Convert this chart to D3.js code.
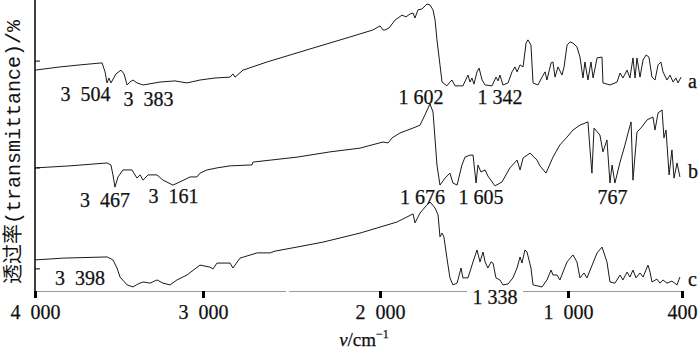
<!DOCTYPE html>
<meta charset="utf-8">
<style>
    body { margin: 0; background: #fff; }
    svg { display: block; }
    .num { font-family: "Liberation Serif", "Times New Roman", serif; font-size: 20px; fill: #111; stroke: #111; stroke-width: 0.25px; }
    .trace { fill: none; stroke: #1a1a1a; stroke-width: 1; stroke-linejoin: round; }
</style>
<svg width="700" height="351"></svg>
<script src="https://d3js.org/d3.v7.min.js"></script>
<script>
    // wavenumber (cm-1), transmittance (arbitrary, offset traces)
    const spectrumA = [[4000,75.9],[3851,77.0],[3732,77.7],[3601,78.4],[3583,75.3],[3571,71.5],[3560,73.2],[3548,71.5],[3518,74.6],[3488,75.9],[3470,74.6],[3452,70.8],[3435,71.8],[3417,72.5],[3393,71.5],[3357,70.8],[3256,71.8],[3167,72.2],[3095,71.5],[3018,72.5],[2932,73.2],[2847,73.5],[2831,74.6],[2819,73.5],[2774,75.9],[2638,78.7],[2508,81.1],[2356,83.9],[2169,87.3],[2040,89.7],[2000,91.1],[1984,89.7],[1973,89.7],[1952,90.4],[1920,93.1],[1883,94.8],[1862,94.2],[1840,95.2],[1824,95.5],[1814,93.8],[1798,96.6],[1777,96.9],[1750,98.6],[1734,98.3],[1718,96.6],[1707,93.1],[1697,86.3],[1681,77.7],[1670,71.8],[1644,70.5],[1628,71.8],[1617,72.5],[1601,70.5],[1559,70.5],[1532,74.2],[1521,71.8],[1511,73.2],[1500,71.1],[1484,75.3],[1473,76.6],[1457,72.5],[1441,70.8],[1404,70.5],[1383,73.5],[1372,72.2],[1362,74.2],[1346,70.8],[1319,71.5],[1298,75.3],[1282,77.0],[1271,75.3],[1255,77.7],[1239,77.0],[1223,85.2],[1213,86.3],[1197,84.5],[1186,71.5],[1160,70.8],[1138,73.5],[1122,75.3],[1112,72.5],[1090,78.4],[1080,78.7],[1069,73.5],[1053,77.0],[1032,74.2],[1021,77.0],[1005,84.5],[989,85.6],[974,85.2],[953,83.9],[937,80.4],[921,73.2],[911,78.7],[895,72.5],[879,78.7],[868,73.2],[847,80.1],[821,80.4],[816,71.5],[779,70.8],[742,71.8],[726,74.9],[711,73.2],[689,75.9],[674,73.2],[658,80.1],[647,73.2],[637,80.1],[621,73.5],[605,79.4],[589,81.1],[574,80.4],[558,73.5],[542,72.5],[526,77.7],[511,78.7],[500,75.3],[479,72.5],[463,74.2],[447,71.8],[432,73.2],[421,71.5],[405,73.5]];

    const spectrumB = [[4000,42.3],[3792,43.0],[3571,44.0],[3548,43.3],[3536,39.9],[3524,35.7],[3506,39.2],[3476,41.6],[3423,41.6],[3393,38.8],[3375,39.9],[3357,38.1],[3327,39.9],[3274,39.9],[3238,38.1],[3179,36.4],[3137,37.5],[3077,39.2],[3036,39.2],[3018,40.5],[2977,41.6],[2921,42.3],[2847,43.0],[2734,43.3],[2723,43.3],[2718,44.3],[2469,46.0],[2283,47.8],[2113,49.1],[1984,51.2],[1957,50.9],[1936,52.6],[1894,54.3],[1824,56.0],[1787,57.0],[1761,60.5],[1734,64.3],[1718,61.5],[1697,43.3],[1681,36.4],[1654,38.8],[1628,40.5],[1612,37.1],[1590,36.4],[1564,43.3],[1548,46.0],[1521,46.7],[1505,46.7],[1489,37.1],[1479,43.3],[1463,40.9],[1441,41.6],[1426,39.5],[1388,36.1],[1351,37.5],[1309,42.3],[1271,45.0],[1255,41.6],[1239,45.7],[1202,47.4],[1165,45.0],[1149,43.0],[1117,40.5],[1080,46.0],[1043,50.2],[1005,52.9],[974,55.3],[937,57.0],[895,58.1],[884,48.5],[874,40.5],[863,56.0],[832,53.6],[816,47.8],[795,51.9],[779,37.1],[768,43.3],[753,37.1],[726,44.3],[700,50.2],[684,54.3],[668,58.1],[658,38.1],[637,54.6],[611,56.4],[584,58.8],[553,59.8],[542,55.3],[526,61.2],[505,62.2],[495,52.6],[484,55.3],[468,39.9],[453,48.5],[442,38.8],[426,44.0],[411,39.2]];

    const spectrumC = [[4000,10.7],[3911,11.0],[3833,11.3],[3571,11.7],[3536,10.7],[3512,7.9],[3494,4.8],[3452,2.1],[3417,1.4],[3387,2.4],[3357,3.1],[3315,2.7],[3274,3.8],[3238,2.7],[3196,2.1],[3155,3.8],[3095,5.5],[3018,8.9],[2960,8.2],[2943,7.6],[2921,9.6],[2847,9.6],[2831,7.9],[2791,11.3],[2694,13.1],[2621,13.1],[2593,13.7],[2469,15.1],[2322,16.8],[2113,19.9],[1910,23.7],[1824,26.5],[1814,23.4],[1787,26.8],[1750,29.6],[1734,30.6],[1707,28.5],[1691,26.1],[1681,18.6],[1670,19.9],[1660,18.6],[1644,11.3],[1628,4.5],[1612,2.1],[1590,2.7],[1569,7.9],[1559,4.5],[1532,4.5],[1505,10.0],[1484,14.1],[1468,10.0],[1452,13.4],[1441,10.0],[1426,7.9],[1409,10.0],[1399,9.6],[1383,4.5],[1362,3.8],[1346,2.1],[1319,2.4],[1293,4.5],[1271,7.9],[1255,11.7],[1245,9.6],[1229,14.1],[1218,13.4],[1197,7.9],[1186,2.1],[1138,1.4],[1112,3.8],[1090,7.2],[1080,5.5],[1059,5.5],[1043,3.8],[1005,10.0],[974,12.4],[953,10.0],[937,4.5],[916,6.2],[900,4.5],[879,7.9],[847,13.1],[821,15.1],[795,10.0],[779,3.1],[753,2.7],[726,5.5],[711,3.8],[689,6.5],[674,4.8],[658,7.2],[642,4.5],[621,6.2],[605,4.8],[579,8.9],[568,6.5],[558,3.1],[532,4.1],[516,2.7],[500,3.8],[479,2.7],[453,3.4],[426,2.1],[411,4.8]];

    const xTickValues = [4000, 3000, 2000, 1000, 400];
    const xTickLabels = ["4\u2002000", "3\u2002000", "2\u2002000", "1\u2002000", "400"];
    const yTickValues = [79.0, 42.3, 7.6];

    // peak labels: text, wavenumber of label centre, transmittance of baseline
    const peakText = ["3\u2002504", "3\u2002383", "1 602", "1 342", "3\u2002467", "3\u2002161", "1 676", "1 605", "767", "3\u2002398", "1 338"];
    const peakWn   = [3699, 3324, 1782, 1362, 3583, 3176, 1774, 1463, 766, 3732, 1388];
    const peakT    = [65.3, 63.6, 64.3, 64.3, 28.9, 30.2, 29.9, 29.9, 29.9, 2.1, -4.5];

    const traceNames = ["a", "b", "c"];
    const traceNameT = [69.8, 38.8, 1.7];

    const svg = d3.select("svg");

    // the original axis is not quite linear, so use piecewise segments
    const x = d3.scaleLinear()
        .domain([4000, 3000, 2000, 1000, 400])
        .range([35, 203, 380, 568, 682]);
    const y = d3.scaleLinear().domain([0, 100]).range([291, 0]);

    // x axis
    const xAxis = d3.axisBottom(x)
        .tickValues(xTickValues)
        .tickFormat((d, i) => xTickLabels[i])
        .tickSize(7)
        .tickSizeOuter(0)
        .tickPadding(7);
    const gx = svg.append("g").attr("transform", "translate(0,291)").call(xAxis);
    gx.select(".domain").attr("stroke", "#9a9a9a").attr("stroke-width", 1);
    gx.selectAll(".tick line").attr("stroke", "#000").attr("stroke-width", 3);
    gx.selectAll(".tick text").attr("class", "num").attr("fill", "#111");
    // small break in the axis line, as in the scan
    svg.append("rect").attr("x", x(2530)).attr("y", 289).attr("width", 3).attr("height", 4).attr("fill", "#fff");

    // y axis, no labels, small inner ticks
    svg.append("line")
        .attr("x1", 35).attr("x2", 35).attr("y1", 0).attr("y2", 291)
        .attr("stroke", "#000").attr("stroke-width", 1.5);
    svg.selectAll(".ytick").data(yTickValues).join("line")
        .attr("class", "ytick")
        .attr("x1", 35).attr("x2", 40)
        .attr("y1", d => y(d)).attr("y2", d => y(d))
        .attr("stroke", "#000").attr("stroke-width", 1);

    const line = d3.line().x(d => x(d[0])).y(d => y(d[1]));
    svg.selectAll(".trace").data([spectrumA, spectrumB, spectrumC]).join("path")
        .attr("class", "trace")
        .attr("d", line);

    // peak labels
    const lab = svg.selectAll(".peak").data(peakText).join("g").attr("class", "peak");
    lab.filter(d => d === "1 338").append("rect")
        .attr("x", x(1388) - 28).attr("y", y(-4.5) - 15)
        .attr("width", 56).attr("height", 17)
        .attr("fill", "#fff");
    lab.append("text")
        .attr("class", "num")
        .attr("x", (d, i) => x(peakWn[i]))
        .attr("y", (d, i) => y(peakT[i]))
        .attr("text-anchor", "middle")
        .style("white-space", "pre")
        .text(d => d);

    svg.selectAll(".name").data(traceNames).join("text")
        .attr("class", "num name")
        .attr("x", x(400) + 6)
        .attr("y", (d, i) => y(traceNameT[i]))
        .text(d => d);

    // axis titles
    svg.append("text")
        .attr("transform", "translate(14,152) rotate(-90)")
        .attr("text-anchor", "middle")
        .attr("dominant-baseline", "central")
        .style("font-family", "'Liberation Mono', 'Noto Sans CJK SC', monospace")
        .style("font-size", "20px")
        .attr("fill", "#111")
        .text("透过率(transmittance)/%");

    const xt = svg.append("text")
        .attr("x", 364).attr("y", 346)
        .attr("text-anchor", "middle")
        .attr("class", "num")
        .style("font-size", "19px");
    xt.append("tspan").style("font-style", "italic").text("v");
    xt.append("tspan").text("/cm");
    xt.append("tspan").attr("dy", -8).style("font-size", "12px").text("−1");
</script>
